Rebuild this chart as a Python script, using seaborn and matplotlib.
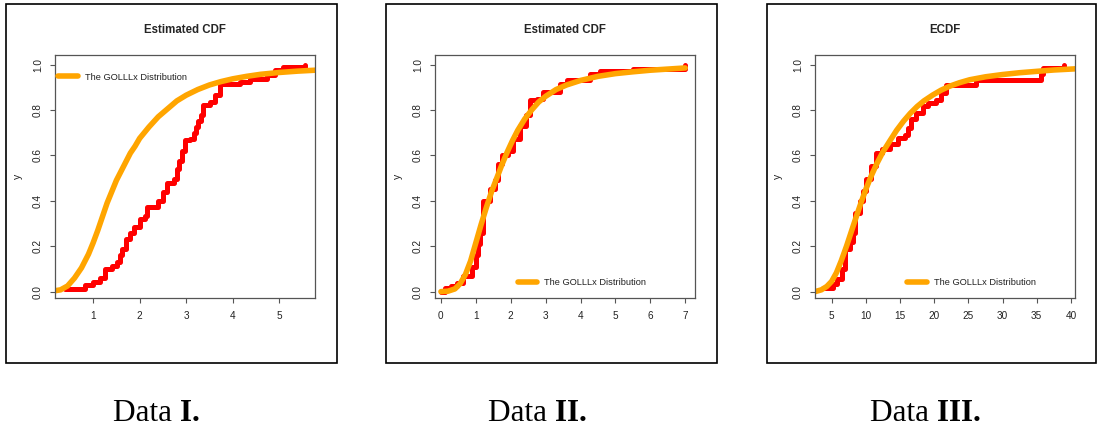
import matplotlib
matplotlib.use("Agg")
import matplotlib.pyplot as plt
import seaborn as sns
from matplotlib.patches import Rectangle


# Data I: empirical CDF steps (red) and fitted GOLLLx CDF (orange)
ecdf1_x = [0.40, 0.83, 1.00, 1.15, 1.26, 1.40, 1.51, 1.58, 1.62, 1.71, 1.80, 1.87, 2.01, 2.12, 2.15, 2.40, 2.51,
           2.58, 2.73, 2.80, 2.85, 2.91, 2.98, 3.09, 3.16, 3.21, 3.26, 3.31, 3.37, 3.52, 3.62, 3.73, 4.16, 4.38,
           4.73, 4.91, 5.09, 5.56]
ecdf1_y = [0.010, 0.028, 0.043, 0.062, 0.099, 0.113, 0.132, 0.160, 0.187, 0.231, 0.260, 0.283, 0.320, 0.334,
           0.371, 0.400, 0.437, 0.480, 0.496, 0.540, 0.577, 0.620, 0.666, 0.673, 0.700, 0.724, 0.750, 0.776, 0.820,
           0.835, 0.864, 0.916, 0.923, 0.938, 0.953, 0.975, 0.989, 1.000]
fit1_x = [0.15, 0.30, 0.45, 0.60, 0.75, 0.90, 1.00, 1.10, 1.20, 1.30, 1.40, 1.50, 1.60, 1.70, 1.80, 1.90, 2.00,
          2.20, 2.40, 2.60, 2.80, 3.00, 3.25, 3.50, 3.75, 4.00, 4.30, 4.60, 5.00, 5.40, 5.77]
fit1_y = [0.003, 0.008, 0.025, 0.060, 0.105, 0.165, 0.215, 0.270, 0.330, 0.390, 0.440, 0.490, 0.530, 0.570, 0.610,
          0.640, 0.675, 0.725, 0.770, 0.805, 0.840, 0.865, 0.890, 0.910, 0.925, 0.937, 0.948, 0.957, 0.965, 0.971,
          0.975]

# Data II
ecdf2_x = [0.00, 0.11, 0.30, 0.45, 0.64, 0.88, 1.00, 1.06, 1.12, 1.21, 1.40, 1.55, 1.64, 1.74, 1.93, 2.07, 2.26,
           2.45, 2.55, 2.74, 2.93, 3.41, 3.60, 4.27, 4.56, 5.51, 7.00]
ecdf2_y = [0.000, 0.015, 0.025, 0.040, 0.070, 0.110, 0.160, 0.210, 0.260, 0.400, 0.450, 0.490, 0.560, 0.600, 0.620,
           0.670, 0.730, 0.780, 0.843, 0.850, 0.880, 0.916, 0.930, 0.957, 0.972, 0.982, 1.000]
fit2_x = [0.00, 0.20, 0.40, 0.55, 0.70, 0.85, 1.00, 1.15, 1.30, 1.45, 1.60, 1.75, 1.90, 2.05, 2.20, 2.40, 2.60,
          2.80, 3.00, 3.30, 3.60, 4.00, 4.50, 5.00, 5.50, 6.00, 6.50, 7.00]
fit2_y = [0.000, 0.002, 0.012, 0.035, 0.075, 0.135, 0.215, 0.295, 0.370, 0.440, 0.500, 0.560, 0.615, 0.665, 0.710,
          0.760, 0.800, 0.835, 0.860, 0.890, 0.910, 0.930, 0.948, 0.960, 0.968, 0.975, 0.980, 0.985]

# Data III
ecdf3_x = [3.78, 5.20, 5.73, 6.46, 6.94, 7.67, 8.16, 8.40, 9.13, 9.62, 10.1, 10.83, 11.56, 12.3, 13.5, 14.7, 15.7,
           16.2, 16.67, 17.4, 18.4, 19.1, 20.3, 21.0, 21.8, 26.1, 35.6, 35.9, 39.0]
ecdf3_y = [0.015, 0.034, 0.056, 0.100, 0.187, 0.217, 0.260, 0.348, 0.400, 0.444, 0.495, 0.553, 0.612, 0.627, 0.649,
           0.678, 0.690, 0.720, 0.758, 0.788, 0.817, 0.832, 0.846, 0.876, 0.912, 0.934, 0.960, 0.985, 1.000]
fit3_x = [2.57, 3.5, 4.3, 5.0, 5.7, 6.4, 7.2, 8.0, 8.7, 9.4, 10.1, 10.8, 11.6, 12.5, 13.5, 14.5, 15.5, 16.5, 17.5,
          18.5, 19.8, 21.0, 22.3, 23.7, 25.2, 27.5, 30.0, 32.5, 35.0, 37.5, 40.6]
fit3_y = [0.000, 0.008, 0.023, 0.045, 0.083, 0.135, 0.202, 0.275, 0.338, 0.400, 0.458, 0.510, 0.563, 0.615, 0.663,
          0.710, 0.750, 0.785, 0.815, 0.840, 0.866, 0.887, 0.905, 0.920, 0.933, 0.946, 0.956, 0.964, 0.970, 0.976,
          0.981]

titles = ["Estimated CDF", "Estimated CDF", "ECDF"]
captions = ["I.", "II.", "III."]
legend_label = "The GOLLLx Distribution"

sns.set_theme(style="white")
plt.rcParams["font.family"] = ["Liberation Sans", "DejaVu Sans"]

W, H = 1097, 432
fig = plt.figure(figsize=(W / 100, H / 100), dpi=100)


def px_axes(left, top, right, bottom):
    return fig.add_axes([left / W, 1 - bottom / H, (right - left) / W, (bottom - top) / H])


def draw_panel(ax, title, ex, ey, fx, fy, xlim, xticks, leg_anchor):
    sns.lineplot(x=ex, y=ey, ax=ax, color="#FF0000", lw=3.6, drawstyle="steps-post",
                 estimator=None, sort=False, solid_capstyle="round")
    sns.lineplot(x=fx, y=fy, ax=ax, color="#FFA500", lw=4.0, estimator=None, sort=False,
                 solid_capstyle="round", solid_joinstyle="round", label=legend_label)
    ax.set_xlim(*xlim)
    ax.set_ylim(-0.028, 1.042)
    ax.set_xticks(xticks)
    ax.set_yticks([0.0, 0.2, 0.4, 0.6, 0.8, 1.0])
    ax.set_yticklabels(["0.0", "0.2", "0.4", "0.6", "0.8", "1.0"], rotation=90, va="center")
    ax.tick_params(axis="both", direction="out", length=3.6, width=0.8, color="#555555",
                   labelsize=7.2, labelcolor="#222222", bottom=True, left=True)
    ax.tick_params(axis="x", pad=6)
    ax.tick_params(axis="y", pad=5)
    for sp in ax.spines.values():
        sp.set_color("#555555")
        sp.set_linewidth(0.9)
    ax.set_title(title, fontsize=8.3, fontweight="bold", pad=16)
    ax.set_xlabel("")
    ax.set_ylabel("y", fontsize=7.5, color="#222222")
    ax.yaxis.set_label_coords(-0.125, 0.5)
    leg = ax.legend(loc="center left", bbox_to_anchor=leg_anchor, frameon=False, fontsize=6.7,
                    handlelength=2.1, handletextpad=0.75, borderpad=0, borderaxespad=0)
    for t in leg.get_texts():
        t.set_color("#222222")


panels = [
    (55, 315, ecdf1_x, ecdf1_y, fit1_x, fit1_y, (0.18, 5.77), [1, 2, 3, 4, 5], (0.012, 0.909)),
    (435, 695, ecdf2_x, ecdf2_y, fit2_x, fit2_y, (-0.17, 7.28), [0, 1, 2, 3, 4, 5, 6, 7], (0.319, 0.062)),
    (815, 1075, ecdf3_x, ecdf3_y, fit3_x, fit3_y, (2.57, 40.6), [5, 10, 15, 20, 25, 30, 35, 40], (0.354, 0.062)),
]
for i, (l, r, ex, ey, fx, fy, xlim, xticks, anchor) in enumerate(panels):
    ax = px_axes(l, 55, r, 298)
    draw_panel(ax, titles[i], ex, ey, fx, fy, xlim, xticks, anchor)

# outer frame of each panel
for x0, x1 in [(6, 337), (386, 717), (767, 1096)]:
    fig.add_artist(Rectangle((x0 / W, 1 - 363 / H), (x1 - x0) / W, (363 - 4) / H,
                             transform=fig.transFigure, fill=False, edgecolor="black", lw=1.2))

# captions under each panel: "Data" regular, numeral bold
for split, cap in zip([180, 555, 937], captions):
    fig.text(split / W, 1 - 421 / H, "Data ", ha="right", va="baseline", fontsize=22.5,
             family="Liberation Serif", color="black")
    fig.text(split / W, 1 - 421 / H, cap, ha="left", va="baseline", fontsize=22.5,
             family="Liberation Serif", fontweight="bold", color="black")

fig.savefig("out.png", dpi=100)
